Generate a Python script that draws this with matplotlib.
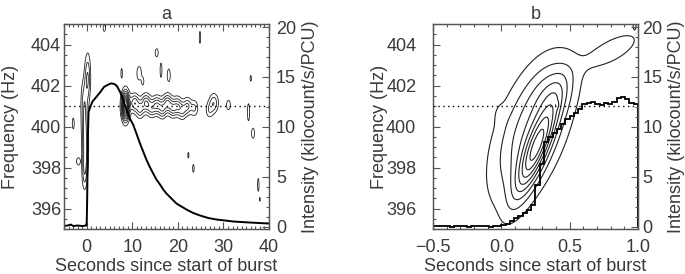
import numpy as np
import matplotlib.pyplot as plt
from matplotlib.ticker import MultipleLocator

plt.rcParams['font.family'] = ['Liberation Sans', 'DejaVu Sans']

# ---- panel a: light curve (s, kilocount/s/PCU)
a_time = [-5, -4.2, -3.5, -3.0, -2.0, -1.0, -0.1, 0.0, 0.1, 0.25, 0.4, 0.8, 1.2,
          2.3, 3.0, 3.8, 4.6, 5.3, 6.0, 6.6, 7.3, 8.0, 8.8, 9.5, 10.2, 11.0,
          11.7, 12.4, 13.1, 13.8, 14.6, 15.3, 16.1, 16.8, 17.5, 18.6, 19.7,
          20.8, 21.9, 23.4, 24.9, 26.7, 28.5, 30.4, 32.2, 34.0, 35.8, 37.9, 40.0]
a_rate = [0.05, 0.1, 0.2, 0.05, 0.1, 0.05, 0.1, 0.5, 3.0, 9.0, 11.5, 12.0, 12.5,
          13.1, 13.5, 14.0, 14.2, 14.35, 14.3, 14.1, 13.5, 12.7, 11.6, 10.8, 10.2, 9.2,
          8.3, 7.5, 6.7, 6.0, 5.3, 4.7, 4.2, 3.7, 3.3, 2.8, 2.3,
          2.0, 1.7, 1.35, 1.1, 0.85, 0.7, 0.6, 0.5, 0.45, 0.4, 0.35, 0.3]

# ---- panel a: dynamic power spectrum features (time, freq, width_t, width_f, power)
a_blob_t = [8.5, 10.5, 11.7, 13.0, 14.2, 15.4, 16.6, 17.7, 18.8, 19.9, 21.0, 22.1,
            23.6, 26.9, 27.9, 31.1, 35.5,
            0.2, -0.6, -0.4, -0.3, -0.5,
            3.85, 24.85, 15.35, 7.66, 11.5, 12.3, 16.3, 18.0, 36.0, -2.96, 22.3, 23.4,
            36.5, 37.65, 38.0, -1.86]
a_blob_f = [401.0, 401.15, 400.8, 401.15, 400.85, 401.05, 400.8, 401.15, 400.85, 401.0, 400.75, 401.0,
            400.9, 400.8, 401.15, 401.05, 400.7,
            402.4, 401.2, 399.8, 398.6, 397.7,
            404.8, 404.35, 403.6, 402.6, 402.6, 402.2, 402.75, 402.5, 402.35, 400.15, 398.6, 397.96,
            399.67, 397.15, 396.45, 398.3]
a_blob_wt = [0.55, 0.7, 0.6, 0.7, 0.6, 0.7, 0.6, 0.7, 0.6, 0.7, 0.6, 0.6,
             0.6, 0.6, 0.7, 0.4, 0.22,
             0.45, 0.5, 0.5, 0.45, 0.4,
             0.25, 0.14, 0.3, 0.15, 0.45, 0.25, 0.18, 0.3, 0.14, 0.2, 0.12, 0.16,
             0.3, 0.15, 0.08, 0.35]
a_blob_wf = [0.45, 0.3, 0.28, 0.3, 0.28, 0.3, 0.28, 0.3, 0.28, 0.3, 0.28, 0.28,
             0.28, 0.28, 0.32, 0.22, 0.4,
             0.8, 0.8, 0.8, 0.7, 0.6,
             0.15, 0.28, 0.18, 0.22, 0.3, 0.18, 0.32, 0.28, 0.14, 0.25, 0.14, 0.18,
             0.22, 0.3, 0.1, 0.16]
a_blob_amp = [1.05, 0.38, 0.27, 0.4, 0.26, 0.38, 0.3, 0.4, 0.27, 0.36, 0.25, 0.3,
              0.22, 0.17, 0.28, 0.17, 0.17,
              0.3, 0.22, 0.26, 0.24, 0.2,
              0.17, 0.17, 0.18, 0.17, 0.18, 0.14, 0.18, 0.18, 0.16, 0.17, 0.16, 0.17,
              0.18, 0.17, 0.15, 0.18]
a_levels = [0.1, 0.2, 0.3, 0.4, 0.5, 0.6, 0.7, 0.8, 0.9]

# ---- panel b: light curve, 1/32 s bins from -0.5 s
b_start = -0.5
b_binw = 1.0 / 32
b_rate = [0.05, 0.05, 0.1, 0.05, 0.0, 0.05, 0.1, 0.05, 0.0, 0.05, 0.05, 0.1, 0.05, 0.0, 0.05, 0.1,
          0.2, 0.3, 0.57, 0.85, 1.1, 1.4, 1.7, 2.2,
          4.2, 6.3, 8.5, 9.0, 9.4, 9.8, 10.3, 10.8, 11.1, 11.4, 11.8,
          12.3, 12.4, 12.5, 12.3, 12.2, 12.4, 12.3, 12.5, 12.9, 13.0, 12.8, 12.4, 12.3]

# ---- panel b: power features (time, freq, drift s/Hz, width across (s), width along (Hz), power)
b_blob_t = [0.255, 0.22, 0.38, 0.82, -0.01, 0.405, 0.975]
b_blob_f = [398.9, 399.8, 401.8, 403.75, 400.6, 401.05, 405.0]
b_blob_drift = [0.055, 0.045, 0.045, 0.15, 0.0, 0.0, 0.0]
b_blob_wa = [0.06, 0.17, 0.1, 0.1, 0.03, 0.012, 0.01]
b_blob_wl = [1.6, 2.4, 0.9, 0.6, 0.35, 0.12, 0.2]
b_blob_amp = [0.6, 0.42, 0.15, 0.21, 0.05, 0.08, 0.15]
b_levels = [1 / 9, 2 / 9, 3 / 9, 4 / 9, 5 / 9, 6 / 9, 7 / 9, 8 / 9]

burst_osc_freq = 401.0

ink = '#222222'
axcol = '#555555'
txtcol = '#3a3a3a'
fs = 13


def power_map(T, F, ts, fs_, drifts, was, wls, amps):
    P = np.zeros_like(T)
    for t0, f0, d, wa, wl, a in zip(ts, fs_, drifts, was, wls, amps):
        u = ((T - t0) - d * (F - f0)) / wa
        v = (F - f0) / wl
        P += a * np.exp(-0.5 * (u * u + v * v))
    return P


def style_axes(ax, ax2, xmaj, xmin, lpad, rpad):
    ax.set_ylim(395, 405)
    ax.yaxis.set_major_locator(MultipleLocator(2))
    ax.yaxis.set_minor_locator(MultipleLocator(0.5))
    ax.xaxis.set_major_locator(MultipleLocator(xmaj))
    ax.xaxis.set_minor_locator(MultipleLocator(xmin))
    ax.tick_params(which='both', direction='in', top=True, right=False,
                   color=axcol, labelcolor=txtcol, labelsize=fs)
    ax.tick_params(axis='x', which='both', pad=7)
    ax.tick_params(axis='y', which='both', pad=lpad)
    ax.tick_params(which='major', length=5, width=0.8)
    ax.tick_params(which='minor', length=2.5, width=0.8)
    ax2.set_ylim(-0.25, 20.3)
    ax2.yaxis.set_major_locator(MultipleLocator(5))
    ax2.yaxis.set_minor_locator(MultipleLocator(1))
    ax2.tick_params(which='both', direction='in', color=axcol,
                    labelcolor=txtcol, labelsize=fs, pad=rpad)
    ax2.tick_params(which='major', length=5, width=0.8)
    ax2.tick_params(which='minor', length=2.5, width=0.8)
    for a in (ax, ax2):
        for s in a.spines.values():
            s.set_color(axcol)
            s.set_linewidth(0.9)
    ax.set_xlabel('Seconds since start of burst', fontsize=fs, color=txtcol)
    ax.set_ylabel('Frequency (Hz)', fontsize=fs, color=txtcol)
    ax2.set_ylabel('Intensity (kilocount/s/PCU)', fontsize=fs, color=txtcol)
    ax.xaxis.set_label_coords(0.5, -0.14)
    ax.yaxis.set_label_coords(-0.22, 0.5)


def main():
    fig = plt.figure(figsize=(6.85, 2.74), dpi=100)

    # panel a
    ax = fig.add_axes([0.0934, 0.1642, 0.2993, 0.748])
    ax.set_xlim(-5, 40)
    t = np.linspace(-5, 40, 1351)
    f = np.linspace(395, 405, 501)
    T, F = np.meshgrid(t, f)
    P = power_map(T, F, a_blob_t, a_blob_f, [0.0] * len(a_blob_t),
                  a_blob_wt, a_blob_wf, a_blob_amp)
    ax.contour(T, F, P, levels=a_levels, colors=ink, linewidths=0.6)
    ax.axhline(burst_osc_freq, color='k', ls=(0, (1, 2.5)), lw=1.0)
    ax2 = ax.twinx()
    ax2.plot(a_time, a_rate, color='k', lw=1.4)
    style_axes(ax, ax2, 10, 1, 2, 5)
    ax2.yaxis.set_label_coords(1.16, 0.5)
    ax.set_title('a', fontsize=fs, color=txtcol, pad=4)

    # panel b
    bx = fig.add_axes([0.6321, 0.1642, 0.2993, 0.748])
    bx.set_xlim(-0.5, 1.0)
    t = np.linspace(-0.5, 1.0, 451)
    T, F = np.meshgrid(t, f)
    P = power_map(T, F, b_blob_t, b_blob_f, b_blob_drift, b_blob_wa,
                  b_blob_wl, b_blob_amp)
    bx.contour(T, F, P, levels=b_levels, colors=ink, linewidths=0.8)
    bx.axhline(burst_osc_freq, color='k', ls=(0, (1, 2.5)), lw=1.0)
    bx2 = bx.twinx()
    edges = b_start + b_binw * np.arange(len(b_rate) + 1)
    bx2.stairs(b_rate, edges, color='k', lw=1.3)
    style_axes(bx, bx2, 0.5, 0.1, 12, 3)
    bx2.yaxis.set_label_coords(1.146, 0.5)
    bx.set_title('b', fontsize=fs, color=txtcol, pad=4)

    fig.savefig('out.png', dpi=100)


if __name__ == "__main__":
    main()
